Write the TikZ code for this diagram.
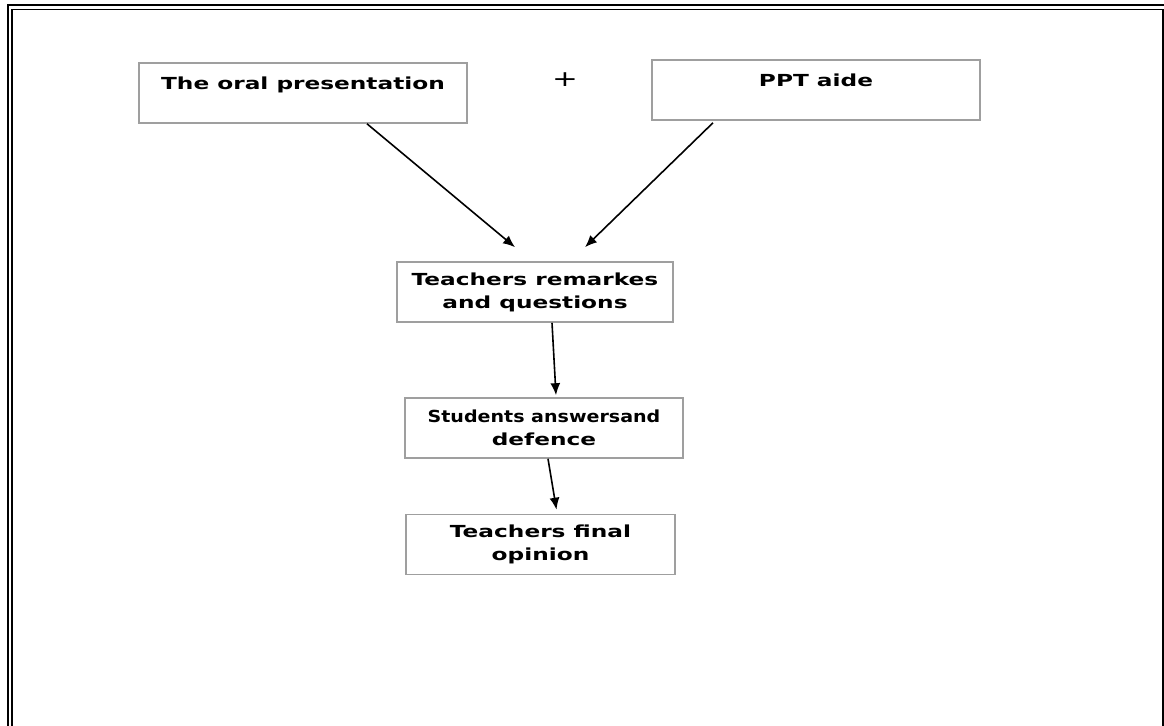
\documentclass[tikz,border=0pt]{standalone}
\usepackage{fontspec}
\setmainfont[FakeStretch=1.4]{DejaVu Sans}
\usetikzlibrary{arrows.meta}

\begin{document}
\begin{tikzpicture}[x=0.5pt,y=-0.5pt,
   box/.style={draw=gray!75,line width=0.8pt,rectangle,align=center,font=\bfseries\fontsize{8.3}{11.5}\selectfont,inner sep=3pt},
   topbox/.style={box,minimum width=164pt,text height=10.5pt,text depth=13.5pt},
   midbox/.style={box,minimum height=30pt},
   arr/.style={draw,line width=0.8pt,-{Latex[length=6pt,width=5pt]}}]
\useasboundingbox (0,0) rectangle (1164,726);
\draw[line width=1pt] (8,760) -- (8,5.5) -- (1167,5.5) -- (1167,760);
\draw[line width=0.8pt] (12,760) -- (12,9.5) -- (1163,9.5) -- (1163,760);
\node[topbox] (oral) at (303,93) {The oral presentation};
\node[topbox] (ppt) at (816,90) {PPT aide};
\node[font=\fontsize{11}{13}\selectfont] (plus) at (565,80) {+};
\node[midbox,minimum width=138pt] (remarks) at (535,292) {Teachers remarkes\\and questions};
\node[midbox,minimum width=139pt] (students) at (544,428) {\scalebox{0.82}[1]{Students answersand}\\defence};
\node[midbox,minimum width=134.5pt] (final) at (540.5,544.5) {Teachers final\\opinion};
\draw[arr] ([xshift=32pt]oral.south) -- ([xshift=-10pt,yshift=7pt]remarks.north);
\draw[arr] ([xshift=-51.5pt,yshift=-1pt]ppt.south) -- ([xshift=25pt,yshift=7pt]remarks.north);
\draw[arr] ([xshift=8.5pt]remarks.south) -- ([xshift=6pt,yshift=1pt]students.north);
\draw[arr] ([xshift=2pt]students.south) -- ([xshift=8pt,yshift=2pt]final.north);
\end{tikzpicture}
\end{document}
